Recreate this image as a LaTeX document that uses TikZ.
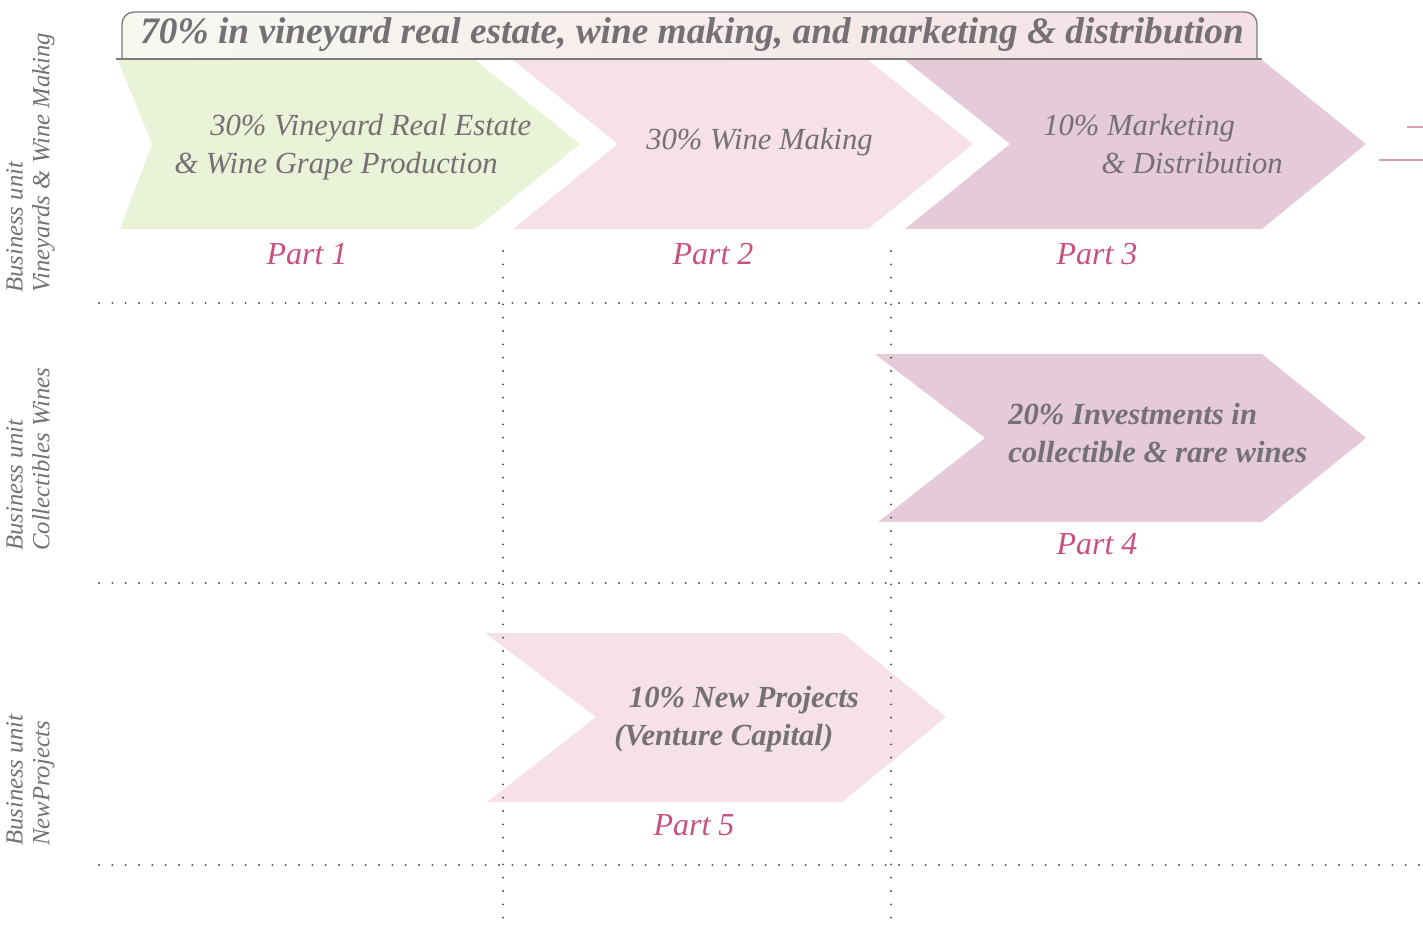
\documentclass[tikz,border=0pt]{standalone}
\usepackage{fontspec}
\setmainfont{Liberation Serif}
\usepackage{tikz}
\usepackage{xcolor}
\definecolor{vine_green}{HTML}{EAF2D8}
\definecolor{wine_rose}{HTML}{F5E1E6}
\definecolor{wine_mauve}{HTML}{E5CAD8}
\definecolor{text_gray}{HTML}{747074}
\definecolor{part_pink}{HTML}{C9507E}
\definecolor{dot_gray}{HTML}{4A4A4A}
\definecolor{frame_gray}{HTML}{7A7A7A}
\definecolor{wine_line}{HTML}{DA9DB7}

\tikzset{
  gridline/.style={dot_gray, line width=1.6pt, line cap=round, dash pattern=on 0pt off 10pt},
  chevtext/.style={text=text_gray, font=\fontsize{23}{29}\selectfont\itshape, align=left, inner sep=0pt, anchor=west},
  chevbold/.style={chevtext, font=\fontsize{23}{29}\selectfont\bfseries\itshape},
  partlabel/.style={text=part_pink, font=\fontsize{24}{28}\selectfont\itshape},
  unitlabel/.style={text=text_gray, font=\fontsize{18.5}{20}\selectfont\itshape, align=left, rotate=90, anchor=north west, inner sep=0pt},
}

\begin{document}
\begin{tikzpicture}[x=0.75pt,y=-0.75pt]
  \useasboundingbox (0,0) rectangle (1423,926);
  %banner
  \shade[left color=black!3!vine_green!30, right color=wine_rose!95!wine_mauve]
    (122,59) -- (122,24) arc[start angle=180,end angle=270,radius=12] -- (1245,12)
    arc[start angle=270,end angle=360,radius=12] -- (1257,59) -- cycle;
  \draw[frame_gray, line width=1pt]
    (122,59) -- (122,24) arc[start angle=180,end angle=270,radius=12] -- (1245,12)
    arc[start angle=270,end angle=360,radius=12] -- (1257,59);
  \draw[frame_gray, line width=1pt] (116,59) -- (1262,59);
  \node[chevbold, font=\fontsize{28}{30}\selectfont\bfseries\itshape] (banner) at (140,35)
    {70\% in vineyard real estate, wine making, and marketing \& distribution};

  %chevrons, first row
  \fill[vine_green] (118,60) -- (475,60) -- (580,144) -- (475,229) -- (120,229) -- (152,144) -- cycle;
  \fill[wine_rose] (513,60) -- (868,60) -- (973,144) -- (868,229) -- (513,229) -- (618,144) -- cycle;
  \fill[wine_mauve] (905,60) -- (1262,60) -- (1366,144) -- (1262,229) -- (905,229) -- (1010,144) -- cycle;
  \node[chevtext] (vineyard) at (174,147) {\hspace*{27pt}30\% Vineyard Real Estate\\\& Wine Grape Production};
  \node[chevtext] (making) at (646,142) {30\% Wine Making};
  \node[chevtext] (marketing) at (1043,144) {10\% Marketing\\\hspace*{43.5pt}\& Distribution};

  %chevron, collectibles
  \fill[wine_mauve] (875,354) -- (1262,354) -- (1366,438) -- (1262,522) -- (878,522) -- (985,438) -- cycle;
  \node[chevbold] (collect) at (1008,433) {20\% Investments in\\collectible \& rare wines};

  %chevron, new projects
  \fill[wine_rose] (485,633) -- (842,633) -- (946,717) -- (842,802) -- (487,802) -- (596,717) -- cycle;
  \node[chevbold] (newproj) at (614,719) {\hspace*{11pt}10\% New Projects\\(Venture Capital)};

  %parts
  \node[partlabel] (part1) at (307,254) {Part 1};
  \node[partlabel] (part2) at (713,254) {Part 2};
  \node[partlabel] (part3) at (1097,254) {Part 3};
  \node[partlabel] (part4) at (1097,544) {Part 4};
  \node[partlabel] (part5) at (694,825) {Part 5};

  %business units
  \node[unitlabel] (unit1) at (6,293) {Business unit\\Vineyards \& Wine Making};
  \node[unitlabel] (unit2) at (6,551) {Business unit\\Collectibles Wines};
  \node[unitlabel] (unit3) at (6,846) {Business unit\\NewProjects};

  %dotted grid
  \draw[gridline] (99,303) -- (1423,303);
  \draw[gridline] (99,583) -- (1423,583);
  \draw[gridline] (99,865) -- (1423,865);
  \draw[gridline] (503,251) -- (503,920);
  \draw[gridline] (891,251) -- (891,920);

  %lines at the right edge
  \draw[wine_line, line width=1.5pt] (1407,127) -- (1423,127);
  \draw[wine_line, line width=1.5pt] (1379,160) -- (1423,160);
\end{tikzpicture}
\end{document}
